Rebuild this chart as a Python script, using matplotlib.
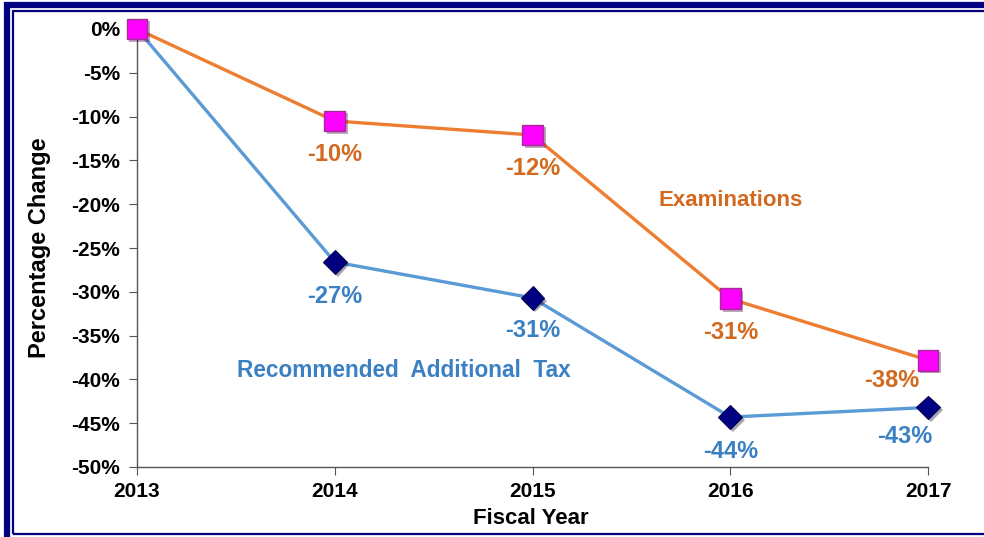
import matplotlib
matplotlib.use("Agg")
import matplotlib.pyplot as plt
import matplotlib.patheffects as pe
from matplotlib.patches import Rectangle

plt.rcParams['font.family'] = ['Liberation Sans', 'DejaVu Sans']

years = [2013, 2014, 2015, 2016, 2017]
examinations = [0, -10.5, -12.1, -30.8, -37.8]
recommended_tax = [0, -26.6, -30.7, -44.3, -43.2]
exam_labels = ["", "-10%", "-12%", "-31%", "-38%"]
tax_labels = ["", "-27%", "-31%", "-44%", "-43%"]

orange = "#ED7D31"
orange_txt = "#D2691E"
blue = "#5B9BD5"
blue_txt = "#3C80C4"

fig = plt.figure(figsize=(9.84, 5.37), dpi=100)

# double navy frame (cut off at right and bottom, like the screenshot)
fig.patches.append(Rectangle((7/984, -0.2), 1.2, 1.2 - 5/537, transform=fig.transFigure,
                             fill=False, edgecolor="#000080", linewidth=4.5))
fig.patches.append(Rectangle((13/984, 3/537), 1.2, 1 - 14/537, transform=fig.transFigure,
                             fill=False, edgecolor="#000080", linewidth=1.6))

ax = fig.add_axes([137/984, 1 - 467/537, (928 - 137)/984, (467 - 29)/537])

shadow = [pe.SimplePatchShadow(offset=(2, -2), alpha=0.35), pe.Normal()]

ax.plot(years, examinations, color=orange, linewidth=2.4, zorder=3)
ax.plot(years, recommended_tax, color=blue, linewidth=2.4, zorder=2)
ax.plot(years[1:], recommended_tax[1:], linestyle="none", marker="D", markersize=12,
        markerfacecolor="#000080", markeredgecolor="#000050", markeredgewidth=0.8,
        zorder=4, path_effects=shadow)
ax.plot(years, examinations, linestyle="none", marker="s", markersize=15,
        markerfacecolor="#FF00FF", markeredgecolor="#A0308F", markeredgewidth=1.0,
        zorder=5, path_effects=shadow)

# data labels
exam_offsets = [None, (0, -34), (0, -34), (0, -34), (-36, -20)]
tax_offsets = [None, (0, -34), (0, -33), (0, -34), (-23, -29)]
for x, y, lab, off in zip(years, examinations, exam_labels, exam_offsets):
    if lab:
        ax.annotate(lab, (x, y), xytext=off, textcoords="offset pixels",
                    ha="center", va="center", fontsize=17, fontweight="bold",
                    color=orange_txt)
for x, y, lab, off in zip(years, recommended_tax, tax_labels, tax_offsets):
    if lab:
        ax.annotate(lab, (x, y), xytext=off, textcoords="offset pixels",
                    ha="center", va="center", fontsize=17, fontweight="bold",
                    color=blue_txt)

ax.text(2016.0, -19.6, "Examinations", ha="center", va="center", fontsize=16,
        fontweight="bold", color=orange_txt)
ax.text(2014.35, -39.0, "Recommended  Additional  Tax", ha="center", va="center",
        fontsize=16.3, fontweight="bold", color=blue_txt)

ax.set_xlim(2013, 2017)
ax.set_ylim(-50, 0)
ax.set_xticks(years)
ax.set_xticklabels([str(y) for y in years])
ax.set_yticks(range(-50, 1, 5))
ax.set_yticklabels(["%d%%" % v for v in range(-50, 1, 5)])
for s in ["top", "right"]:
    ax.spines[s].set_visible(False)
for s in ["left", "bottom"]:
    ax.spines[s].set_color("#555555")
    ax.spines[s].set_linewidth(1.0)
ax.tick_params(direction="out", length=6, color="#555555", labelsize=15, pad=5)
ax.tick_params(axis="y", pad=6)
for lab in ax.get_xticklabels() + ax.get_yticklabels():
    lab.set_fontweight("bold")
ax.patch.set_alpha(0)
for line in ax.lines:
    line.set_clip_on(False)

fig.text(40/984, 1 - 248/537, "Percentage Change", rotation=90, ha="center", va="center",
         fontsize=17, fontweight="bold")
fig.text(531/984, 1 - 518/537, "Fiscal Year", ha="center", va="center",
         fontsize=16, fontweight="bold")

fig.savefig("out.png", dpi=100)
